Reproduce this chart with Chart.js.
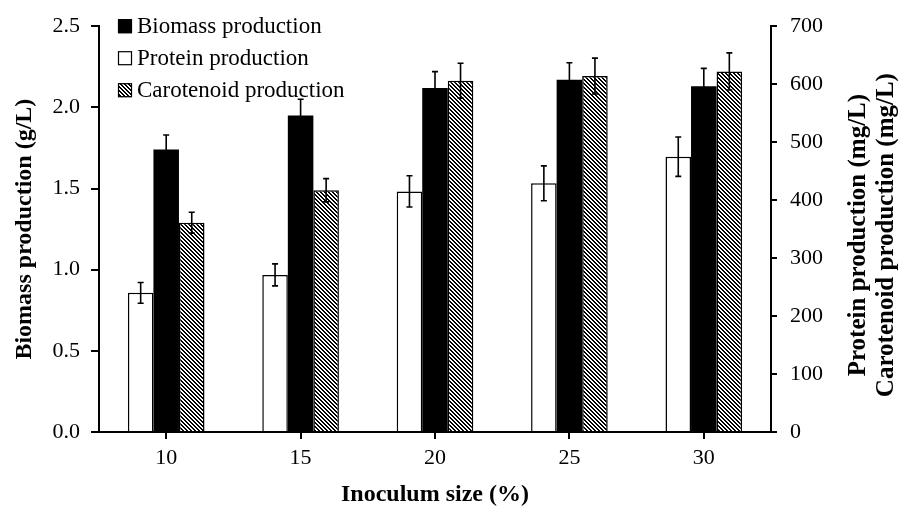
<!DOCTYPE html>
<html>
<head>
<meta charset="utf-8">
<script src="https://cdn.jsdelivr.net/npm/chart.js@4/dist/chart.umd.min.js"></script>
<style>
  html, body { margin: 0; padding: 0; background: #fff; }
  #wrap { width: 912px; height: 507px; position: relative; }
</style>
</head>
<body>
<div id="wrap"><canvas id="c" width="912" height="507"></canvas></div>
<script>
// ---- data ----
const categories = ['10', '15', '20', '25', '30'];
const biomass = [1.74, 1.95, 2.12, 2.17, 2.13];          // g/L
const biomassErr = [0.09, 0.10, 0.10, 0.105, 0.11];
const protein = [240, 271, 415, 429, 475];               // mg/L
const proteinErr = [18, 19, 27, 30, 34];
const carotenoid = [361, 417, 606, 614, 622];            // mg/L
const carotenoidErr = [18, 20, 30, 31, 32];
const leftTicks = [0, 0.5, 1.0, 1.5, 2.0, 2.5];
const rightTicks = [0, 100, 200, 300, 400, 500, 600, 700];

const SERIF = '"Liberation Serif", "Times New Roman", "DejaVu Serif", serif';

function makeHatch() {
  const P = 4;
  const t = document.createElement('canvas');
  t.width = P; t.height = P;
  const g = t.getContext('2d');
  const img = g.createImageData(P, P);
  for (let y = 0; y < P; y++) {
    for (let x = 0; x < P; x++) {
      const k = (((x - y) % P) + P) % P;
      const v = k < 2 ? 0 : 255;
      const i = (y * P + x) * 4;
      img.data[i] = v; img.data[i + 1] = v; img.data[i + 2] = v; img.data[i + 3] = 255;
    }
  }
  g.putImageData(img, 0, 0);
  return g.createPattern(t, 'repeat');
}
const ctx0 = document.getElementById('c').getContext('2d');
const hatch = makeHatch();

const errorBars = {
  id: 'errorBars',
  afterDatasetsDraw(chart) {
    const ctx = chart.ctx;
    chart.data.datasets.forEach((ds, i) => {
      const meta = chart.getDatasetMeta(i);
      const ys = chart.scales[meta.yAxisID];
      meta.data.forEach((bar, j) => {
        const v = ds.data[j], e = ds.errors[j];
        const yt = ys.getPixelForValue(v + e);
        const yb = ys.getPixelForValue(v - e);
        ctx.save();
        ctx.strokeStyle = '#000';
        ctx.lineWidth = 1.6;
        ctx.beginPath();
        ctx.moveTo(bar.x, yt); ctx.lineTo(bar.x, yb);
        ctx.moveTo(bar.x - 3, yt); ctx.lineTo(bar.x + 3, yt);
        ctx.moveTo(bar.x - 3, yb); ctx.lineTo(bar.x + 3, yb);
        ctx.stroke();
        ctx.restore();
      });
    });
  }
};

const legendItems = [
  { label: 'Biomass production', fill: '#000' },
  { label: 'Protein production', fill: '#fff' },
  { label: 'Carotenoid production', fill: hatch }
];

const customLegend = {
  id: 'customLegend',
  afterDraw(chart) {
    const ctx = chart.ctx;
    const a = chart.chartArea;
    ctx.save();
    ctx.font = '23px ' + SERIF;
    ctx.textBaseline = 'middle';
    legendItems.forEach((it, k) => {
      const cy = a.top + k * 32;
      const bx = a.left + 19;
      ctx.fillStyle = it.fill;
      ctx.fillRect(bx, cy - 7, 14, 14);
      ctx.strokeStyle = '#000';
      ctx.lineWidth = 1.2;
      ctx.strokeRect(bx + 0.5, cy - 6.5, 13, 13);
      ctx.fillStyle = '#000';
      ctx.fillText(it.label, bx + 19, cy + 1);
    });
    ctx.restore();
  }
};

const axisExtras = {
  id: 'axisExtras',
  afterDraw(chart) {
    const ctx = chart.ctx;
    const a = chart.chartArea;
    ctx.save();
    // x axis line runs slightly past both vertical axes
    ctx.strokeStyle = '#000';
    ctx.lineWidth = 2;
    ctx.beginPath();
    ctx.moveTo(a.left - 7, a.bottom);
    ctx.lineTo(a.right + 5, a.bottom);
    ctx.stroke();
    // right axis title, reading bottom to top
    const lines = ['Protein production (mg/L)', 'Carotenoid production (mg/L)'];
    ctx.font = 'bold 25px ' + SERIF;
    ctx.fillStyle = '#000';
    ctx.textAlign = 'center';
    ctx.textBaseline = 'middle';
    const cy = (a.top + a.bottom) / 2 + 6;
    lines.forEach((t, k) => {
      ctx.save();
      ctx.translate(a.right + 88 + k * 28, cy);
      ctx.rotate(-Math.PI / 2);
      ctx.fillText(t, 0, 0);
      ctx.restore();
    });
    ctx.restore();
  }
};

new Chart(ctx0, {
  type: 'bar',
  data: {
    labels: categories,
    datasets: [
      { label: 'Protein production', data: protein, errors: proteinErr, yAxisID: 'y1',
        backgroundColor: '#fff', borderColor: '#000', borderWidth: 1.5 },
      { label: 'Biomass production', data: biomass, errors: biomassErr, yAxisID: 'y',
        backgroundColor: '#000', borderColor: '#000', borderWidth: 0 },
      { label: 'Carotenoid production', data: carotenoid, errors: carotenoidErr, yAxisID: 'y1',
        backgroundColor: hatch, borderColor: '#000', borderWidth: 1.5 }
    ]
  },
  options: {
    responsive: false,
    animation: false,
    events: [],
    layout: { padding: { top: 22, left: 0, right: 0, bottom: 0 } },
    datasets: { bar: { barPercentage: 1.0, categoryPercentage: 0.57 } },
    plugins: { legend: { display: false }, tooltip: { enabled: false } },
    scales: {
      x: {
        offset: true,
        grid: { display: true, drawOnChartArea: false, drawTicks: true, tickLength: 7,
                offset: false, color: '#000', lineWidth: 2 },
        border: { display: true, color: '#000', width: 2 },
        ticks: { color: '#000', font: { family: SERIF, size: 22 }, padding: 6 },
        title: { display: true, text: 'Inoculum size (%)', color: '#000',
                 font: { family: SERIF, size: 24, weight: 'bold', lineHeight: 1.0 },
                 padding: { top: 0, bottom: 0 } },
        afterFit(s) { s.height = 75; }
      },
      y: {
        position: 'left', min: 0, max: 2.5,
        afterBuildTicks(s) { s.ticks = leftTicks.map(v => ({ value: v })); },
        grid: { display: true, drawOnChartArea: false, drawTicks: true, tickLength: 8,
                color: '#000', lineWidth: 2 },
        border: { display: true, color: '#000', width: 2 },
        ticks: { color: '#000', font: { family: SERIF, size: 22 }, padding: 11,
                 callback: v => Number(v).toFixed(1) },
        title: { display: true, text: 'Biomass production (g/L)', color: '#000',
                 font: { family: SERIF, size: 24, weight: 'bold', lineHeight: 1.2 },
                 padding: 10 },
        afterFit(s) { s.width = 99; }
      },
      y1: {
        position: 'right', min: 0, max: 700,
        afterBuildTicks(s) { s.ticks = rightTicks.map(v => ({ value: v })); },
        grid: { display: true, drawOnChartArea: false, drawTicks: true, tickLength: 6,
                color: '#000', lineWidth: 2 },
        border: { display: true, color: '#000', width: 2 },
        ticks: { color: '#000', font: { family: SERIF, size: 22 }, padding: 13 },
        afterFit(s) { s.width = 141; }
      }
    }
  },
  plugins: [errorBars, customLegend, axisExtras]
});
</script>
</body>
</html>
